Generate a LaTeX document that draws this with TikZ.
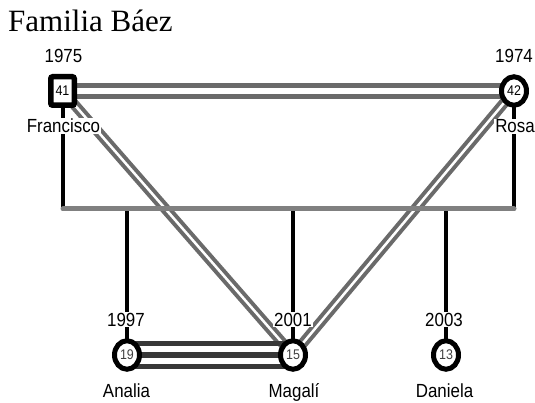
\documentclass[tikz,border=0pt]{standalone}
\usepackage{fontspec}
\setmainfont{Liberation Serif}
\newfontfamily\labfont[FakeStretch=0.89]{Liberation Sans}
\usetikzlibrary{shapes.geometric}
\definecolor{coupgray}{HTML}{6A6A6A}
\definecolor{sibgray}{HTML}{808080}
\definecolor{twindark}{HTML}{383838}
\begin{document}
\begin{tikzpicture}[x=1pt,y=-1pt,
  lab/.style={font=\labfont\fontsize{19}{19}\selectfont, fill=white, inner sep=1pt, anchor=base},
  male/.style={draw, line width=5.5pt, rounded corners=2pt, minimum width=23.5pt, minimum height=28.5pt, fill=white, inner sep=0pt, font=\labfont\fontsize{14}{14}\selectfont},
  female/.style={ellipse, draw, line width=5pt, minimum width=25pt, minimum height=28.5pt, fill=white, inner sep=0pt, font=\labfont\fontsize{14}{14}\selectfont},
  child/.style={female, text=black!75},
  couple/.style={draw=coupgray, line width=5.5pt, double=white, double distance=5.5pt},
  diag/.style={draw=coupgray, line width=4pt, double=white, double distance=2.5pt},
  twin/.style={draw=twindark, line width=5.5pt},
  desc/.style={draw=black, line width=4pt},
  sibship/.style={draw=sibgray, line width=5pt, line cap=round}
]
\useasboundingbox (0,0) rectangle (535,403);
\node[anchor=base west, font=\fontsize{31}{31}\selectfont, inner sep=0pt] (title) at (8,32) {Familia Báez};

\coordinate (sibL) at (63,209);
\coordinate (sibR) at (514,209);

% node positions
\path (62.5,91) coordinate (pfr);
\path (514,91) coordinate (pro);
\path (127,355) coordinate (pan);
\path (293,355) coordinate (pma);
\path (446,355) coordinate (pda);

% relationship lines
\draw[diag] (pfr) -- (pma);
\draw[diag] (pro) -- (pma);
\draw[couple] (pfr) -- (pro);
\draw[twin] ([yshift=11.7pt]pan) -- ([yshift=11.7pt]pma);
\draw[twin] (pan) -- (pma);
\draw[twin] ([yshift=-11.7pt]pan) -- ([yshift=-11.7pt]pma);

% descent lines
\draw[desc] (pfr) -- (pfr |- sibL);
\draw[desc] (pro) -- (pro |- sibL);
\draw[desc] (pan) -- (pan |- sibL);
\draw[desc] (pma) -- (pma |- sibL);
\draw[desc] (pda) -- (pda |- sibL);
\draw[sibship] (sibL) -- (sibR);

% persons
\node[male] (fr) at (pfr) {41};
\node[female] (ro) at (pro) {42};
\node[child] (an) at (pan) {19};
\node[child] (ma) at (pma) {15};
\node[child] (da) at (pda) {13};

% labels
\node[lab] (yfr) at (63.5,63) {1975};
\node[lab] (nfr) at (63.5,133) {Francisco};
\node[lab] (yro) at (514,63) {1974};
\node[lab] (nro) at (515,133) {Rosa};
\node[lab] (yan) at (126,326) {1997};
\node[lab] (nan) at (126.5,397) {Analia};
\node[lab] (yma) at (293,326) {2001};
\node[lab] (nma) at (294,397) {Magalí};
\node[lab] (yda) at (444,326) {2003};
\node[lab] (nda) at (444.5,397) {Daniela};
\end{tikzpicture}
\end{document}
